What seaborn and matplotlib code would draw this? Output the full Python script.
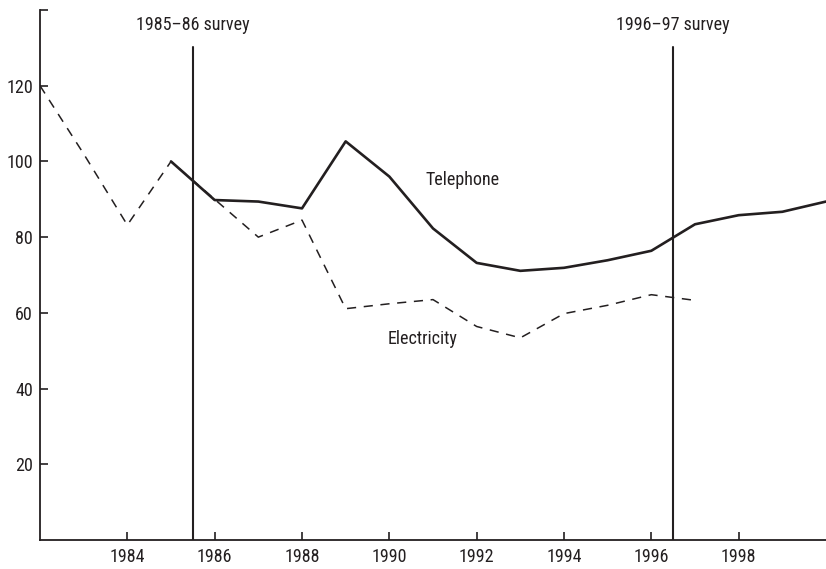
import numpy as np
import pandas as pd
import matplotlib
matplotlib.use("Agg")
import matplotlib.pyplot as plt
from matplotlib import font_manager
import seaborn as sns

sns.set_theme(style="white")

# pick a narrow face if one is installed, otherwise a plain sans
names = {f.name for f in font_manager.fontManager.ttflist}
narrow = [n for n in ['Liberation Sans Narrow', 'Roboto Condensed', 'Open Sans Condensed',
                      'DejaVu Sans Condensed', 'Liberation Sans'] if n in names]
plt.rcParams['font.family'] = narrow[:1] + ['DejaVu Sans']
fsize = 13

# data
tel_years = [1985, 1986, 1987, 1988, 1989, 1990, 1991, 1992, 1993, 1994,
             1995, 1996, 1997, 1998, 1999, 2000]
tel_values = [100.0, 89.8, 89.4, 87.6, 105.3, 96.0, 82.3, 73.2, 71.1, 71.9,
              73.9, 76.4, 83.4, 85.8, 86.7, 89.4]

elec_years = [1982, 1983, 1984, 1985, 1986, 1987, 1988, 1989, 1990, 1991,
              1992, 1993, 1994, 1995, 1996, 1997]
elec_values = [120.0, 102.0, 83.2, 100.0, 90.0, 80.0, 84.5, 61.1, 62.4, 63.5,
               56.4, 53.4, 59.8, 62.0, 64.8, 63.3]

surveys = [1985.5, 1996.5]
survey_labels = ['1985\u201386 survey', '1996\u201397 survey']

ink = '#231f20'

tel = pd.DataFrame({'year': tel_years, 'value': tel_values})
elec = pd.DataFrame({'year': elec_years, 'value': elec_values})

fig = plt.figure(figsize=(8.26, 5.69), dpi=100)
ax = fig.add_axes([40 / 826, 1 - 540 / 569, 1 - 40 / 826, 530 / 569])

sns.lineplot(data=elec, x='year', y='value', ax=ax, color=ink,
             linewidth=1.1, linestyle=(0, (6, 5)))
sns.lineplot(data=tel, x='year', y='value', ax=ax, color=ink, linewidth=1.9)

for xs, lab in zip(surveys, survey_labels):
    ax.plot([xs, xs], [0, 130.3], color=ink, linewidth=1.5)
    ax.text(xs, 136.0, lab, ha='center', va='center', fontsize=fsize, color=ink)

ax.text(1991.67, 95.1, 'Telephone', ha='center', va='center', fontsize=fsize, color=ink)
ax.text(1990.75, 53.2, 'Electricity', ha='center', va='center', fontsize=fsize, color=ink)

ax.set_xlim(1982, 2000)
ax.set_ylim(0, 140)
ax.set_xticks(range(1984, 2000, 2))
ax.set_yticks(range(20, 160, 20))
ax.set_yticklabels([str(v) for v in range(20, 140, 20)] + [''])
ax.set_xlabel('')
ax.set_ylabel('')

for s in ['top', 'right']:
    ax.spines[s].set_visible(False)
for s in ['left', 'bottom']:
    ax.spines[s].set_color(ink)
    ax.spines[s].set_linewidth(1.3)

ax.tick_params(axis='both', direction='in', length=6, width=1.2, color=ink,
               labelsize=fsize, labelcolor=ink, pad=5, bottom=True, left=True)
ax.tick_params(axis='x', pad=6)

fig.savefig('out.png', dpi=100)
